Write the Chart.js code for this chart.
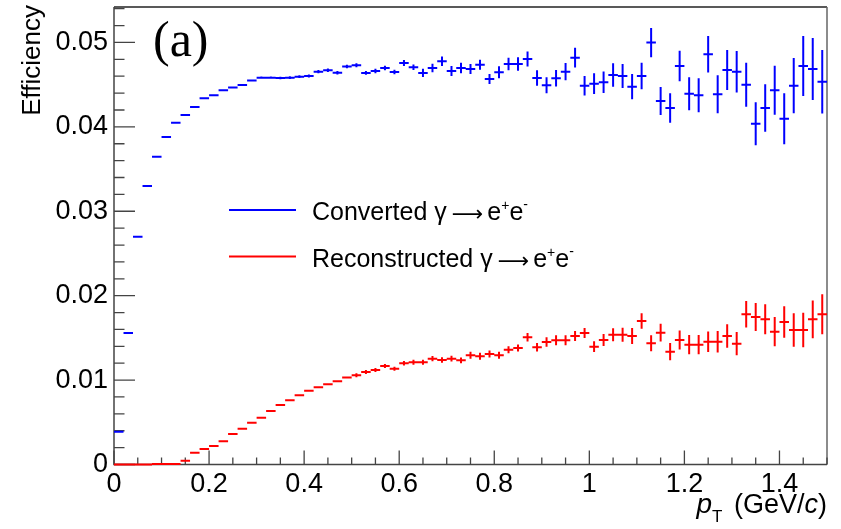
<!DOCTYPE html>
<html>
<head>
<meta charset="utf-8">
<script src="https://cdn.jsdelivr.net/npm/chart.js@4.4.1/dist/chart.umd.min.js"></script>
<style>
  html, body { margin: 0; padding: 0; background: #fff; }
  #wrap { width: 841px; height: 529px; }
</style>
</head>
<body>
<div id="wrap"><canvas id="eff" width="841" height="529"></canvas></div>
<script>
// pT bin centres (GeV/c), bins are 0.02 wide
const binCenters = [
  0.01, 0.03, 0.05, 0.07, 0.09, 0.11, 0.13, 0.15, 0.17, 0.19,
  0.21, 0.23, 0.25, 0.27, 0.29, 0.31, 0.33, 0.35, 0.37, 0.39,
  0.41, 0.43, 0.45, 0.47, 0.49, 0.51, 0.53, 0.55, 0.57, 0.59,
  0.61, 0.63, 0.65, 0.67, 0.69, 0.71, 0.73, 0.75, 0.77, 0.79,
  0.81, 0.83, 0.85, 0.87, 0.89, 0.91, 0.93, 0.95, 0.97, 0.99,
  1.01, 1.03, 1.05, 1.07, 1.09, 1.11, 1.13, 1.15, 1.17, 1.19,
  1.21, 1.23, 1.25, 1.27, 1.29, 1.31, 1.33, 1.35, 1.37, 1.39,
  1.41, 1.43, 1.45, 1.47, 1.49
];
const binHalfWidth = 0.01;

// Converted photons (gamma -> e+e-) efficiency and its uncertainty
const convertedEff = [
  0.00389, 0.01558, 0.02699, 0.03300, 0.03647, 0.03880, 0.04050, 0.04141, 0.04236, 0.04339,
  0.04374, 0.04434, 0.04465, 0.04496, 0.04548, 0.04583, 0.04583, 0.04579, 0.04583, 0.04595,
  0.04603, 0.04654, 0.04670, 0.04642, 0.04715, 0.04730, 0.04639, 0.04662, 0.04698, 0.04650,
  0.04757, 0.04706, 0.04639, 0.04698, 0.04777, 0.04662, 0.04698, 0.04686, 0.04737, 0.04568,
  0.04647, 0.04745, 0.04745, 0.04805, 0.04579, 0.04493, 0.04575, 0.04654, 0.04820, 0.04488,
  0.04512, 0.04528, 0.04615, 0.04603, 0.04476, 0.04603, 0.04998, 0.04307, 0.04224, 0.04722,
  0.04393, 0.04374, 0.04860, 0.04385, 0.04674, 0.04654, 0.04500, 0.04038, 0.04224, 0.04434,
  0.04097, 0.04488, 0.04722, 0.04686, 0.04535
];
const convertedErr = [
  0.00002, 0.00003, 0.00004, 0.00004, 0.00005, 0.00005, 0.00006, 0.00006, 0.00007, 0.00007,
  0.00008, 0.00009, 0.00010, 0.00011, 0.00012, 0.00013, 0.00014, 0.00015, 0.00016, 0.00017,
  0.00018, 0.00019, 0.00020, 0.00021, 0.00022, 0.00024, 0.00022, 0.00026, 0.00026, 0.00026,
  0.00035, 0.00032, 0.00048, 0.00051, 0.00056, 0.00059, 0.00063, 0.00059, 0.00059, 0.00059,
  0.00071, 0.00075, 0.00079, 0.00089, 0.00091, 0.00095, 0.00098, 0.00103, 0.00116, 0.00116,
  0.00122, 0.00128, 0.00139, 0.00142, 0.00150, 0.00158, 0.00172, 0.00166, 0.00174, 0.00181,
  0.00195, 0.00201, 0.00217, 0.00225, 0.00237, 0.00246, 0.00261, 0.00255, 0.00282, 0.00290,
  0.00302, 0.00328, 0.00355, 0.00367, 0.00376
];

// Reconstructed photons (gamma -> e+e-) efficiency and its uncertainty
const reconstructedEff = [
  0.00000, 0.00000, 0.00000, 0.00000, 0.00005, 0.00005, 0.00005, 0.00045, 0.00140, 0.00184,
  0.00219, 0.00275, 0.00361, 0.00424, 0.00495, 0.00555, 0.00634, 0.00705, 0.00761, 0.00820,
  0.00874, 0.00915, 0.00950, 0.00985, 0.01030, 0.01057, 0.01096, 0.01120, 0.01167, 0.01135,
  0.01199, 0.01211, 0.01211, 0.01254, 0.01238, 0.01254, 0.01234, 0.01294, 0.01282, 0.01309,
  0.01294, 0.01360, 0.01380, 0.01507, 0.01389, 0.01451, 0.01471, 0.01471, 0.01522, 0.01558,
  0.01396, 0.01475, 0.01538, 0.01538, 0.01522, 0.01700, 0.01436, 0.01562, 0.01337, 0.01475,
  0.01420, 0.01420, 0.01455, 0.01455, 0.01522, 0.01432, 0.01780, 0.01748, 0.01720, 0.01574,
  0.01688, 0.01594, 0.01594, 0.01720, 0.01780
];
const reconstructedErr = [
  0.00000, 0.00000, 0.00000, 0.00000, 0.00000, 0.00000, 0.00000, 0.00003, 0.00003, 0.00003,
  0.00004, 0.00004, 0.00004, 0.00005, 0.00005, 0.00005, 0.00006, 0.00006, 0.00007, 0.00007,
  0.00008, 0.00009, 0.00010, 0.00011, 0.00012, 0.00024, 0.00024, 0.00024, 0.00024, 0.00024,
  0.00026, 0.00030, 0.00030, 0.00032, 0.00032, 0.00035, 0.00035, 0.00041, 0.00041, 0.00041,
  0.00041, 0.00041, 0.00041, 0.00051, 0.00050, 0.00057, 0.00059, 0.00059, 0.00059, 0.00059,
  0.00063, 0.00071, 0.00077, 0.00083, 0.00095, 0.00091, 0.00095, 0.00104, 0.00103, 0.00113,
  0.00113, 0.00115, 0.00122, 0.00128, 0.00139, 0.00139, 0.00158, 0.00166, 0.00178, 0.00174,
  0.00187, 0.00198, 0.00205, 0.00223, 0.00237
];

// axis tick values and their labels
const xTickValues = [0, 0.2, 0.4, 0.6, 0.8, 1.0, 1.2, 1.4];
const xTickLabels = ['0', '0.2', '0.4', '0.6', '0.8', '1', '1.2', '1.4'];
const yTickValues = [0, 0.01, 0.02, 0.03, 0.04, 0.05];
const yTickLabels = ['0', '0.01', '0.02', '0.03', '0.04', '0.05'];

const SANS = '"Liberation Sans", Arial, Helvetica, sans-serif';
const SERIF = '"Liberation Serif", "Times New Roman", serif';
const ARROW_FONT = '"DejaVu Sans", sans-serif';

// draws a row of text pieces (different fonts / vertical shifts) starting at x
function drawRuns(ctx, runs, x, y, align) {
  let total = 0;
  for (const r of runs) { ctx.font = r.font; total += ctx.measureText(r.t).width + (r.gap || 0); }
  let cx = align === 'right' ? x - total : x;
  ctx.textAlign = 'left';
  ctx.textBaseline = 'alphabetic';
  for (const r of runs) {
    ctx.font = r.font;
    ctx.fillText(r.t, cx, y + (r.dy || 0));
    cx += ctx.measureText(r.t).width + (r.gap || 0);
  }
}

// frame and inward-pointing ticks
const frameAndTicks = {
  id: 'frameAndTicks',
  beforeDatasetsDraw(chart) {
    const { ctx, chartArea: a, scales: { x, y } } = chart;
    ctx.save();
    ctx.lineWidth = 1.5;
    ctx.strokeStyle = '#222';
    ctx.beginPath();
    ctx.moveTo(a.left, a.top); ctx.lineTo(a.right, a.top);
    ctx.stroke();
    ctx.strokeStyle = '#666';
    ctx.beginPath();
    ctx.moveTo(a.right, a.top); ctx.lineTo(a.right, a.bottom);
    ctx.stroke();
    ctx.strokeStyle = '#444';
    ctx.beginPath();
    ctx.moveTo(a.left, a.top); ctx.lineTo(a.left, a.bottom); ctx.lineTo(a.right, a.bottom);
    ctx.stroke();
    ctx.lineWidth = 1.3;
    ctx.beginPath();
    for (let k = 0; k <= 30; k++) {
      const v = k * 0.05;
      const px = x.getPixelForValue(v);
      const len = (k % 4 === 0) ? 14 : 7;
      ctx.moveTo(px, a.bottom);
      ctx.lineTo(px, a.bottom - len);
    }
    for (let k = 0; k <= 27; k++) {
      const v = k * 0.002;
      const py = y.getPixelForValue(v);
      const len = (k % 5 === 0) ? 21 : 10.5;
      ctx.moveTo(a.left, py);
      ctx.lineTo(a.left + len, py);
    }
    ctx.stroke();
    ctx.restore();
  }
};

// histogram marks: bin-wide horizontal bar plus vertical error bar
const binErrorBars = {
  id: 'binErrorBars',
  afterDatasetsDraw(chart) {
    const { ctx, scales: { x, y } } = chart;
    ctx.save();
    ctx.lineWidth = 2;
    ctx.lineCap = 'butt';
    chart.data.datasets.forEach((ds) => {
      ctx.strokeStyle = ds.borderColor;
      ctx.beginPath();
      ds.data.forEach((p, i) => {
        const err = ds.errors[i];
        const py = y.getPixelForValue(p.y);
        ctx.moveTo(x.getPixelForValue(p.x - binHalfWidth), py);
        ctx.lineTo(x.getPixelForValue(p.x + binHalfWidth), py);
        if (err > 0) {
          const px = x.getPixelForValue(p.x);
          ctx.moveTo(px, y.getPixelForValue(p.y + err));
          ctx.lineTo(px, y.getPixelForValue(p.y - err));
        }
      });
      ctx.stroke();
    });
    ctx.restore();
  }
};

// titles, panel tag and legend
const annotations = {
  id: 'annotations',
  afterDraw(chart) {
    const { ctx } = chart;
    ctx.save();
    ctx.fillStyle = '#000';

    // y title
    ctx.save();
    ctx.translate(40, 5);
    ctx.rotate(-Math.PI / 2);
    ctx.font = '26px ' + SANS;
    ctx.textAlign = 'right';
    ctx.textBaseline = 'alphabetic';
    ctx.fillText('Efficiency', 0, 0);
    ctx.restore();

    // x title
    drawRuns(ctx, [
      { t: 'p', font: 'italic 28px ' + SANS },
      { t: 'T', font: '17px ' + SANS, dy: 9, gap: 4 },
      { t: ' (GeV/', font: '27px ' + SANS },
      { t: 'c', font: 'italic 27px ' + SANS },
      { t: ')', font: '27px ' + SANS }
    ], 827, 513, 'right');

    // panel tag
    ctx.font = '50px ' + SERIF;
    ctx.textAlign = 'left';
    ctx.textBaseline = 'alphabetic';
    ctx.fillText('(a)', 153, 56);

    // legend
    const entries = [
      { color: chart.data.datasets[0].borderColor, y: 210, name: 'Converted' },
      { color: chart.data.datasets[1].borderColor, y: 256.5, name: 'Reconstructed' }
    ];
    entries.forEach((e) => {
      ctx.strokeStyle = e.color;
      ctx.lineWidth = 2;
      ctx.beginPath();
      ctx.moveTo(229, e.y);
      ctx.lineTo(296, e.y);
      ctx.stroke();
      drawRuns(ctx, [
        { t: e.name + ' \u03B3', font: '25px ' + SANS, gap: 5 },
        { t: '\u27F6', font: '22px ' + ARROW_FONT, dy: 1, gap: 4 },
        { t: 'e', font: '25px ' + SANS },
        { t: '+', font: '14px ' + SANS, dy: -10 },
        { t: 'e', font: '25px ' + SANS },
        { t: '-', font: '14px ' + SANS, dy: -11 }
      ], 312, e.y + 10, 'left');
    });
    ctx.restore();
  }
};

const tickFont = { family: SANS, size: 27 };

new Chart(document.getElementById('eff'), {
  type: 'scatter',
  data: {
    datasets: [
      {
        label: 'Converted \u03B3 \u2192 e+e-',
        data: binCenters.map((c, i) => ({ x: c, y: convertedEff[i] })),
        errors: convertedErr,
        borderColor: '#0000ff',
        backgroundColor: '#0000ff',
        pointRadius: 0,
        showLine: false
      },
      {
        label: 'Reconstructed \u03B3 \u2192 e+e-',
        data: binCenters.map((c, i) => ({ x: c, y: reconstructedEff[i] })),
        errors: reconstructedErr,
        borderColor: '#ff0000',
        backgroundColor: '#ff0000',
        pointRadius: 0,
        showLine: false
      }
    ]
  },
  options: {
    responsive: false,
    animation: false,
    devicePixelRatio: 1,
    layout: { padding: { top: 7, right: 14, left: 0, bottom: 0 } },
    plugins: { legend: { display: false }, tooltip: { enabled: false } },
    scales: {
      x: {
        type: 'linear',
        min: 0,
        max: 1.5,
        grid: { display: false, drawTicks: false },
        border: { display: false },
        afterBuildTicks: (s) => { s.ticks = xTickValues.map((v) => ({ value: v })); },
        afterFit: (s) => { s.height = 64.5; s.paddingLeft = 0; s.paddingRight = 0; },
        ticks: {
          callback: (v, i) => xTickLabels[i],
          font: tickFont,
          color: '#000',
          padding: 4,
          maxRotation: 0,
          autoSkip: false
        }
      },
      y: {
        type: 'linear',
        min: 0,
        max: 0.0542,
        grid: { display: false, drawTicks: false },
        border: { display: false },
        afterBuildTicks: (s) => { s.ticks = yTickValues.map((v) => ({ value: v })); },
        afterFit: (s) => { s.width = 114; s.paddingTop = 0; s.paddingBottom = 0; },
        ticks: {
          callback: (v, i) => yTickLabels[i],
          font: tickFont,
          color: '#000',
          padding: 6,
          autoSkip: false
        }
      }
    }
  },
  plugins: [frameAndTicks, binErrorBars, annotations]
});
</script>
</body>
</html>
